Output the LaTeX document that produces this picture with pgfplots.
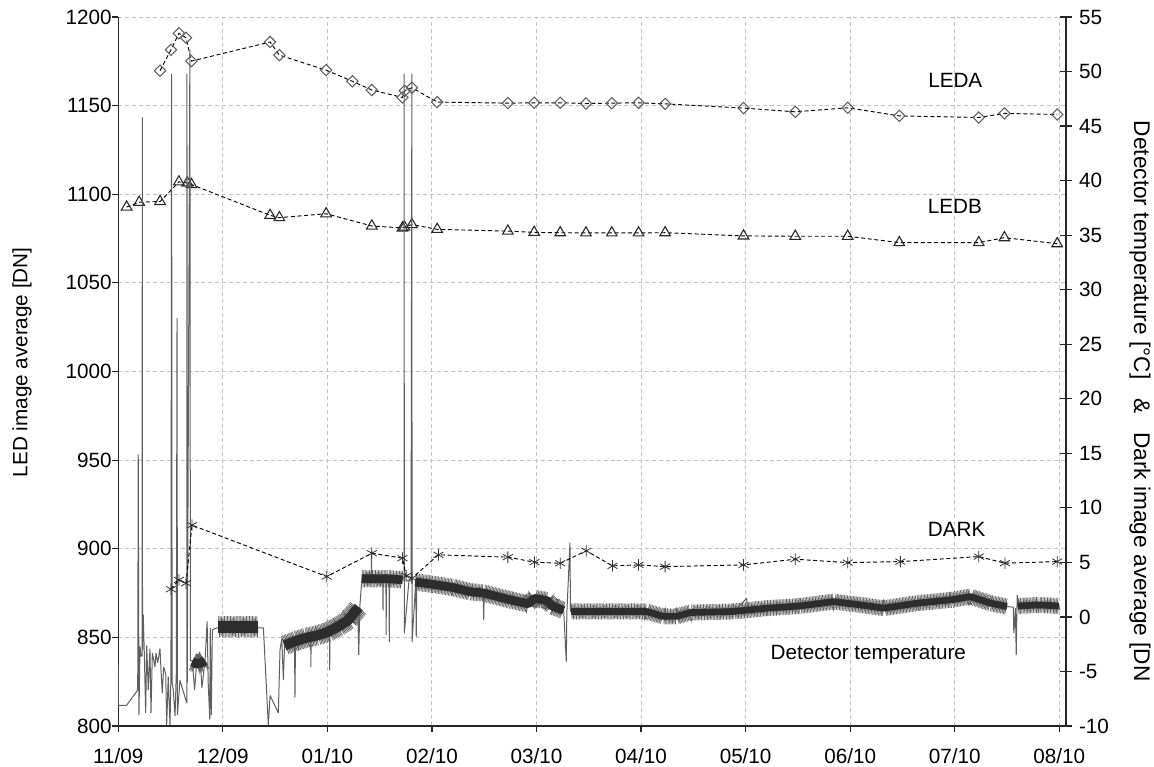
\documentclass[border=0pt]{standalone}
\usepackage{fontspec}
\setmainfont{Liberation Sans}
\usepackage{pgfplots}
\pgfplotsset{compat=1.18}
\usetikzlibrary{decorations.pathmorphing}
\definecolor{gridc}{RGB}{195,195,195}
\definecolor{bandc}{RGB}{45,45,45}
\definecolor{spkc}{RGB}{95,95,95}
\definecolor{diac}{RGB}{95,95,95}
\newcommand{\lblfont}{\fontsize{15.5}{18}\selectfont}

\pgfplotstableread{
x y
0.40 1169.7
0.504 1181.5
0.58 1190.8
0.648 1188.3
0.70 1175.1
1.452 1185.9
1.541 1178.5
1.988 1170.0
2.24 1163.7
2.425 1158.8
2.718 1154.6
2.74 1158.4
2.808 1160.1
3.05 1152.0
3.726 1151.4
3.978 1151.6
4.227 1151.6
4.473 1151.2
4.72 1151.4
4.976 1151.6
5.23 1151.0
5.98 1148.6
6.475 1146.5
6.976 1148.8
7.47 1144.2
8.23 1143.3
8.475 1145.6
8.98 1145.0
}\leda

\pgfplotstableread{
x y
0.08 1092.8
0.20 1095.5
0.40 1095.9
0.58 1107.0
0.66 1106.4
0.70 1105.5
1.452 1088.1
1.541 1086.8
1.988 1089.0
2.425 1082.1
2.718 1081.0
2.737 1081.5
2.808 1082.9
3.05 1080.2
3.726 1079.2
3.978 1078.5
4.227 1078.3
4.473 1078.2
4.72 1078.2
4.976 1078.2
5.23 1078.3
5.98 1076.5
6.475 1076.3
6.976 1076.3
7.47 1072.7
8.23 1072.7
8.475 1075.5
8.98 1072.1
}\ledb

\pgfplotstableread{
x y
0.504 2.54
0.58 3.39
0.648 3.09
0.705 8.41
1.994 3.70
2.425 5.84
2.718 5.39
2.753 3.76
2.808 3.55
3.062 5.69
3.726 5.48
3.98 5.02
4.227 4.92
4.476 6.06
4.727 4.68
4.976 4.77
5.23 4.61
5.98 4.77
6.475 5.29
6.976 4.98
7.48 5.07
8.23 5.53
8.48 4.93
8.98 5.07
}\dark

\pgfplotstableread{
x y
0.000 -4.4
0.000 -8.1
0.080 -8.1
0.186 -6.7
0.191 14.9
0.198 -9.0
0.208 -2.7
0.217 -3.6
0.228 -3.6
0.230 45.8
0.232 -3.0
0.239 0.2
0.249 -3.3
0.262 -8.8
0.272 -2.6
0.287 -6.7
0.303 -2.9
0.313 -8.8
0.326 -3.3
0.351 -4.6
0.361 -3.3
0.377 -4.2
0.399 -2.9
0.409 -4.9
0.421 -7.0
0.434 -4.6
0.454 -5.2
0.463 -9.9
0.478 -5.5
0.495 -9.9
0.504 -5.2
0.510 49.8
0.515 -6.0
0.526 -6.7
0.543 -9.1
0.555 -5.2
0.562 27.4
0.566 -9.0
0.590 -5.8
0.655 -7.9
0.657 49.8
0.660 -6.0
0.685 52.0
0.690 -4.0
0.708 -4.0
0.730 -6.7
0.750 -4.2
0.780 -3.2
0.800 -6.5
0.830 -4.0
0.850 -0.4
0.860 -6.0
0.875 -9.4
0.880 -1.0
0.890 -9.0
0.900 -1.2
0.940 -1.0
0.957 -1.0
1.340 -1.0
1.388 -1.0
1.435 -9.9
1.452 -7.2
1.531 -8.8
1.547 -3.0
1.564 -2.0
1.579 -5.8
1.590 -2.6
1.685 -2.3
1.690 -7.4
1.695 -2.3
1.800 -1.9
1.840 -1.8
1.842 -4.6
1.845 -1.8
1.900 -1.7
2.000 -1.4
2.020 -1.3
2.022 -4.9
2.025 -1.3
2.100 -0.9
2.200 -0.3
2.290 0.8
2.300 -3.5
2.310 0.9
2.330 3.5
2.420 3.6
2.422 6.1
2.425 3.6
2.500 3.5
2.530 3.5
2.532 0.6
2.535 3.5
2.560 3.5
2.562 -1.65
2.565 3.5
2.590 3.4
2.592 -2.3
2.595 3.4
2.720 3.4
2.734 3.4
2.734 49.8
2.736 -1.5
2.780 3.3
2.800 3.3
2.808 49.8
2.810 -2.3
2.845 3.2
2.850 -1.8
2.855 3.3
3.000 3.0
3.200 2.7
3.370 2.3
3.490 2.2
3.495 -0.3
3.500 2.1
3.750 1.56
3.920 1.2
3.980 1.85
4.100 1.7
4.150 1.0
4.200 0.9
4.260 0.6
4.285 -4.1
4.290 0.3
4.320 6.8
4.325 0.5
5.050 0.5
5.210 0.05
5.340 0.05
5.470 0.4
5.885 0.5
6.010 1.7
6.020 0.6
6.200 0.8
6.520 1.0
6.840 1.4
7.100 1.1
7.320 0.8
7.640 1.26
7.960 1.56
8.150 1.86
8.340 1.26
8.500 0.95
8.560 0.9
8.565 -1.5
8.580 0.8
8.588 -3.5
8.597 2.0
8.620 1.0
8.995 1.0
9.005 0.64
}\temp

\pgfplotsset{
  base/.style={
    at={(0pt,0pt)}, anchor=south west,
    scale only axis, width=710.8pt, height=531.75pt,
    xmin=0, xmax=9.064,
    axis line style={black!85, line width=1pt},
    tick style={black!85, line width=0.9pt},
    tick label style={font=\lblfont, black},
  },
  core/.style={bandc, line width=#1, line join=round},
  zz/.style={spkc, line width=0.45pt, decorate, decoration={zigzag, segment length=1.1pt, amplitude=#1}},
}

\begin{document}
\begin{tikzpicture}
\path[use as bounding box] (-88.7pt,-30.75pt) rectangle (776.8pt,544.5pt);
\begin{axis}[base,
  ymin=800, ymax=1200,
  axis x line*=bottom, axis y line*=left,
  xtick={0,1,2,3,4,5,6,7,8,9},
  xticklabels={11/09,12/09,01/10,02/10,03/10,04/10,05/10,06/10,07/10,08/10},
  ytick={800,850,900,950,1000,1050,1100,1150,1200},
  yticklabels={800,850,900,950,1000,1050,1100,1150,1200},
  tick align=outside, major tick length=4.5pt,
  xticklabel style={yshift=-9pt},
  yticklabel style={xshift=3pt},
  xmajorgrids, ymajorgrids,
  grid style={gridc, dash pattern=on 3pt off 2.2pt, line width=0.7pt},
  ylabel={LED image average [DN]},
  every axis y label/.style={at={(rel axis cs:-0.1016,0.513)}, rotate=90, anchor=center, font=\lblfont},
]
\addplot[black, line width=0.7pt, dash pattern=on 3pt off 2pt, mark=square, mark size=3.0pt,
  mark options={solid, diac, line width=0.8pt, rotate=45}] table {\leda};
\addplot[black, line width=0.7pt, dash pattern=on 3pt off 2pt, mark=triangle, mark size=4.6pt,
  mark options={solid, black!85, line width=0.8pt}] table {\ledb};
\node[font=\lblfont] at (axis cs:8.005,1164.5) {LEDA};
\node[font=\lblfont] at (axis cs:8.002,1093.0) {LEDB};
\node[font=\lblfont] at (axis cs:8.018,911.0) {DARK};
\node[font=\lblfont] at (axis cs:7.173,840.1) {Detector temperature};
\end{axis}

\begin{axis}[base,
  ymin=-10, ymax=55,
  axis x line=none, axis y line*=right,
  ytick={-10,-5,0,5,10,15,20,25,30,35,40,45,50,55},
  yticklabels={-10,-5,0,5,10,15,20,25,30,35,40,45,50,55},
  tick align=center, major tick length=8.5pt,
  yticklabel style={xshift=2pt},
  ylabel={Detector temperature [°C]\ \ \ \&\ \ \ Dark image average [DN},
  every axis y label/.style={at={(rel axis cs:1.078,0.458)}, rotate=-90, anchor=center, font=\fontsize{17}{20}\selectfont},
]
\addplot[spkc, line width=0.75pt, line join=bevel] table {\temp};
% dense noise bands (centre lines)
\addplot[zz=7pt] coordinates {(0.708,-4.1) (0.75,-4.3) (0.80,-4.2) (0.83,-4.0)};
\addplot[core=7pt] coordinates {(0.708,-4.1) (0.75,-4.3) (0.80,-4.2) (0.83,-4.0)};
\addplot[zz=8pt] coordinates {(0.957,-0.9) (1.15,-0.9) (1.34,-0.9)};
\addplot[core=9pt] coordinates {(0.957,-0.9) (1.15,-0.9) (1.34,-0.9)};
\addplot[zz=7.5pt] coordinates {(1.59,-2.6) (1.70,-2.2) (1.80,-1.9) (1.90,-1.7) (2.00,-1.4) (2.10,-0.9) (2.20,-0.3) (2.30,0.9)};
\addplot[core=7.5pt] coordinates {(1.59,-2.6) (1.70,-2.2) (1.80,-1.9) (1.90,-1.7) (2.00,-1.4) (2.10,-0.9) (2.20,-0.3) (2.30,0.9)};
\addplot[zz=6.5pt] coordinates {(2.33,3.5) (2.58,3.5) (2.72,3.4)};
\addplot[core=6.5pt] coordinates {(2.33,3.5) (2.58,3.5) (2.72,3.4)};
\addplot[zz=6.5pt] coordinates {(2.84,3.2) (3.00,3.0) (3.20,2.7) (3.37,2.3) (3.49,2.2) (3.75,1.56) (3.92,1.2) (3.98,1.7) (4.10,1.5) (4.15,1.0) (4.26,0.6)};
\addplot[core=6.5pt] coordinates {(2.84,3.2) (3.00,3.0) (3.20,2.7) (3.37,2.3) (3.49,2.2) (3.75,1.56) (3.92,1.2) (3.98,1.7) (4.10,1.5) (4.15,1.0) (4.26,0.6)};
\addplot[zz=6pt] coordinates {(4.33,0.5) (5.05,0.5) (5.21,0.05) (5.34,0.05) (5.47,0.4) (5.885,0.5) (6.20,0.8) (6.52,1.0) (6.84,1.4) (7.10,1.1) (7.32,0.8) (7.64,1.26) (7.96,1.56) (8.15,1.86) (8.34,1.26) (8.50,0.95)};
\addplot[core=5pt] coordinates {(4.33,0.5) (5.05,0.5) (5.21,0.05) (5.34,0.05) (5.47,0.4) (5.885,0.5) (6.20,0.8) (6.52,1.0) (6.84,1.4) (7.10,1.1) (7.32,0.8) (7.64,1.26) (7.96,1.56) (8.15,1.86) (8.34,1.26) (8.50,0.95)};
\addplot[zz=6pt] coordinates {(8.60,1.0) (8.80,1.1) (8.995,1.0)};
\addplot[core=5pt] coordinates {(8.60,1.0) (8.80,1.1) (8.995,1.0)};
\addplot[black, line width=0.7pt, dash pattern=on 3pt off 2pt, mark=asterisk, mark size=4.3pt,
  mark options={solid, black!80, line width=0.6pt}] table {\dark};
\end{axis}
\end{tikzpicture}
\end{document}
